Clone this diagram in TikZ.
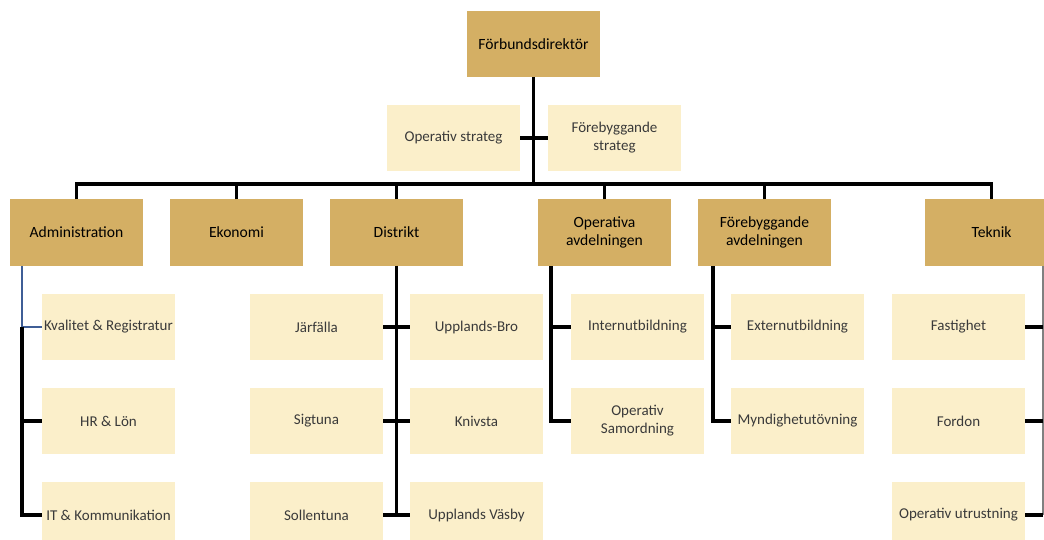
\documentclass[tikz,border=0pt]{standalone}
\usepackage{fontspec}
\setmainfont{Carlito}
\definecolor{gold}{HTML}{D4AF64}
\definecolor{cream}{HTML}{FBEFCA}
\definecolor{txtgray}{HTML}{3A3A3A}
\definecolor{lineblue}{HTML}{3F5E96}
\begin{document}
\begin{tikzpicture}[x=1pt,y=1pt,
  head/.style={fill=gold, minimum width=133pt, minimum height=66pt, inner sep=0pt, align=center, font=\fontsize{15.6}{17.5}\selectfont, text=black},
  sub/.style={fill=cream, minimum width=133pt, minimum height=66pt, inner sep=0pt, align=center, font=\fontsize{15}{18}\selectfont, text=txtgray},
  conn/.style={draw=black, line width=3.2pt},
  thinblue/.style={draw=lineblue, line width=1.3pt},
  thingray/.style={draw=gray, line width=1.1pt}]
\useasboundingbox (0,0) rectangle (1044,-540);
% top
\node[head] (dir) at (533.5,-44) {Förbundsdirektör};
\node[sub] (opstrat) at (453.5,-138) {Operativ strateg};
\node[sub] (forstrat) at (614.5,-138) {Förebyggande\\strateg};
% level 2
\node[head] (adm) at (76.5,-232.5) {Administration};
\node[head] (eko) at (236.5,-232.5) {Ekonomi};
\node[head] (dist) at (396.5,-232.5) {Distrikt};
\node[head] (opav) at (604.5,-232.5) {Operativa\\avdelningen};
\node[head] (forav) at (764.5,-232.5) {Förebyggande\\avdelningen};
\node[head] (tek) at (991.5,-232.5) {Teknik};
% administration children
\node[sub] (kval) at (108.5,-327) {Kvalitet \& Registratur};
\node[sub] (hr) at (108.5,-421) {HR \& Lön};
\node[sub] (it) at (108.5,-515) {IT \& Kommunikation};
% distrikt children
\node[sub] (jarf) at (316.5,-327) {Järfälla};
\node[sub] (sig) at (316.5,-421) {Sigtuna};
\node[sub] (soll) at (316.5,-515) {Sollentuna};
\node[sub] (ub) at (476.5,-327) {Upplands-Bro};
\node[sub] (kniv) at (476.5,-421) {Knivsta};
\node[sub] (uv) at (476.5,-515) {Upplands Väsby};
% operativa children
\node[sub] (intern) at (637.5,-327) {Internutbildning};
\node[sub] (samord) at (637.5,-421) {Operativ\\Samordning};
% förebyggande children
\node[sub] (extern) at (797.5,-327) {Externutbildning};
\node[sub] (mynd) at (797.5,-421) {Myndighetutövning};
% teknik children
\node[sub] (fast) at (958.5,-327) {Fastighet};
\node[sub] (ford) at (958.5,-421) {Fordon};
\node[sub] (oput) at (958.5,-515) {Operativ utrustning};
% coordinates
\coordinate (bar) at (533.5,-184);
\coordinate (admline) at (22,-266);
\coordinate (opline) at (551,-266);
\coordinate (forline) at (713,-266);
\coordinate (tekline) at (1043,-266);
% top connectors
\draw[conn] (dir.south) -- (bar);
\draw[conn] (opstrat.east) -- (forstrat.west);
\draw[conn] (adm.north) |- (bar) -| (tek.north);
\draw[conn] (eko.north) -- (eko.north |- bar);
\draw[conn] (dist.north) -- (dist.north |- bar);
\draw[conn] (opav.north) -- (opav.north |- bar);
\draw[conn] (forav.north) -- (forav.north |- bar);
% administration
\draw[thinblue] (admline) |- (kval.west);
\draw[conn] (admline |- kval.west) |- (it.west);
\draw[conn] (hr.west) -- (hr.west -| admline);
% distrikt
\draw[conn] (dist.south) -- (dist.south |- uv.west);
\draw[conn] (jarf.east) -- (ub.west);
\draw[conn] (sig.east) -- (kniv.west);
\draw[conn] (soll.east) -- (uv.west);
% operativa
\draw[conn] (opline) |- (samord.west);
\draw[conn] (intern.west) -- (intern.west -| opline);
% förebyggande
\draw[conn] (forline) |- (mynd.west);
\draw[conn] (extern.west) -- (extern.west -| forline);
% teknik
\draw[thingray] (tekline) -- (tekline |- oput.east);
\draw[conn] (fast.east) -- (fast.east -| tekline);
\draw[conn] (ford.east) -- (ford.east -| tekline);
\draw[conn] (oput.east) -- (oput.east -| tekline);
\end{tikzpicture}
\end{document}
